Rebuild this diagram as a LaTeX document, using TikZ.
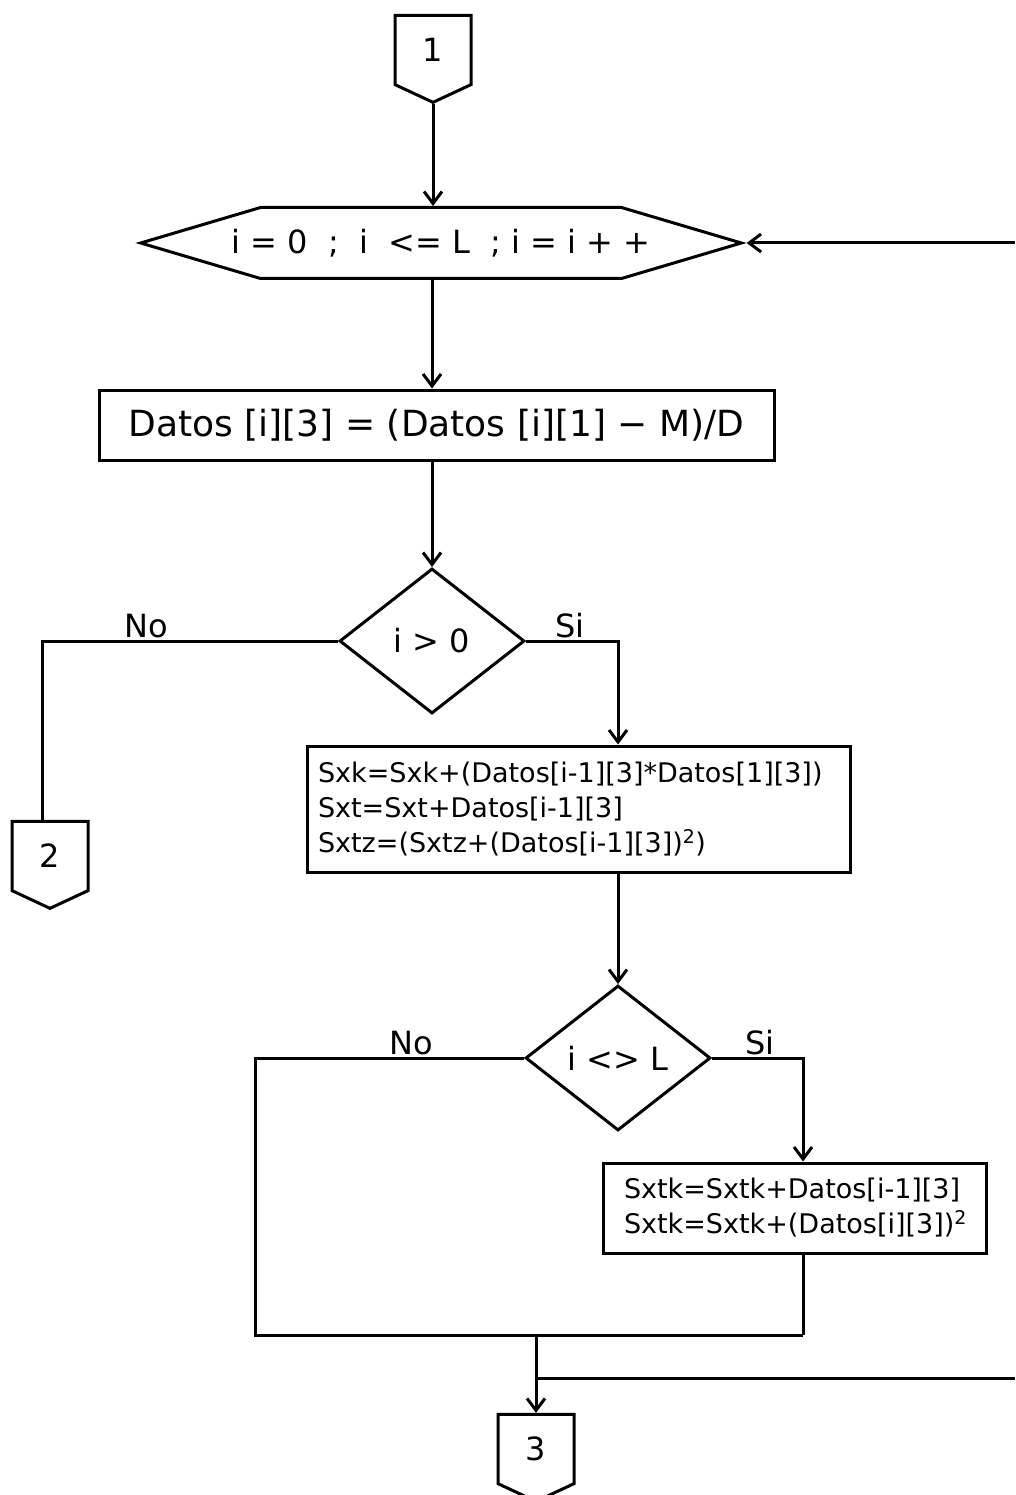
\documentclass[tikz,border=0pt]{standalone}
\usepackage{fontspec}
\setmainfont{DejaVu Sans}
\usetikzlibrary{shapes.geometric, shapes.symbols, arrows.meta, positioning}

\begin{document}
\begin{tikzpicture}[x=1pt, y=-1pt,
  every node/.style={font=\fontsize{32}{38}\selectfont},
  line width=3pt,
  offpage/.style={signal, signal to=south, draw, minimum width=76pt,
                  minimum height=74pt, signal pointer angle=130, inner sep=0pt},
  loopbox/.style={signal, signal from=nowhere, signal to={east and west}, draw,
                  minimum height=71pt, signal pointer angle=33,
                  inner xsep=-29pt, inner ysep=0pt},
  procbox/.style={rectangle, draw, inner sep=0pt},
  decision/.style={diamond, draw, minimum width=185pt, minimum height=145pt,
                   aspect=1.28, inner sep=0pt},
  small/.style={font=\fontsize{27}{35}\selectfont, align=left},
  lbl/.style={font=\fontsize{32}{36}\selectfont, anchor=south, inner sep=2pt},
  link/.style={-{Straight Barb[length=12pt, width=18pt]}}
]
  \useasboundingbox (0,0) rectangle (1015,1495);

  % symbols
  \node[offpage] (con1) at (433,50) {1};
  \node[loopbox] (loop) at (441,243) {i = 0\ \ ;\ \ i\ \ <= L\ \ ; i = i + +};
  \node[procbox, minimum width=675pt, minimum height=70pt,
        font=\fontsize{36}{40}\selectfont] (calc) at (436.5,425)
    {Datos [i][3] = (Datos [i][1] − M)/D};
  \node[decision] (cond1) at (432,641) {i > 0};
  \node[offpage] (con2) at (50,856) {2};
  \node[procbox, small, minimum width=543pt, minimum height=126pt,
        text width=521pt] (sums) at (578.5,809)
    {Sxk=Sxk+(Datos[i-1][3]*Datos[1][3])\\
     Sxt=Sxt+Datos[i-1][3]\\
     Sxtz=(Sxtz+(Datos[i-1][3])\textsuperscript{2})};
  \node[decision] (cond2) at (618,1058) {i <> L};
  \node[procbox, small, minimum width=383pt, minimum height=90pt,
        text width=341pt] (sumk) at (794.5,1208)
    {Sxtk=Sxtk+Datos[i-1][3]\\
     Sxtk=Sxtk+(Datos[i][3])\textsuperscript{2}};
  \node[offpage] (con3) at (536,1449) {3};

  % labels
  \node[lbl] (no1) at (146,641) {No};
  \node[lbl] (si1) at (570,641) {Si};
  \node[lbl] (no2) at (411,1058) {No};
  \node[lbl] (si2) at (760,1058) {Si};

  % helper points
  \coordinate (axis) at (432,0);
  \coordinate (nox) at (42,0);
  \coordinate (sx) at (618,0);
  \coordinate (kx) at (803,0);
  \coordinate (mergeL) at (255,1335);
  \coordinate (mergeR) at (803,1335);
  \coordinate (tap) at (536,1378);
  \coordinate (loopin) at (1015,243);
  \coordinate (loopout) at (1015,1378);

  % flow
  \draw[link] (con1.south) -- (con1.south |- loop.north);
  \draw[link] (axis |- loop.south) -- (axis |- calc.north);
  \draw[link] (calc.south -| cond1.north) -- (cond1.north);
  \draw (cond1.west) -| (nox |- con2.north);
  \draw[link] (cond1.east) -| (sx |- sums.north);
  \draw[link] (sums.south -| cond2.north) -- (cond2.north);
  \draw[link] (cond2.east) -| (kx |- sumk.north);
  \draw (cond2.west) -| (mergeL) -- (mergeR);
  \draw (kx |- sumk.south) -- (mergeR);
  \draw[link] (mergeL -| con3.north) -- (con3.north);
  \draw (tap) -- (loopout);
  \draw[link] (loopin) -- (loop.east);
\end{tikzpicture}
\end{document}
